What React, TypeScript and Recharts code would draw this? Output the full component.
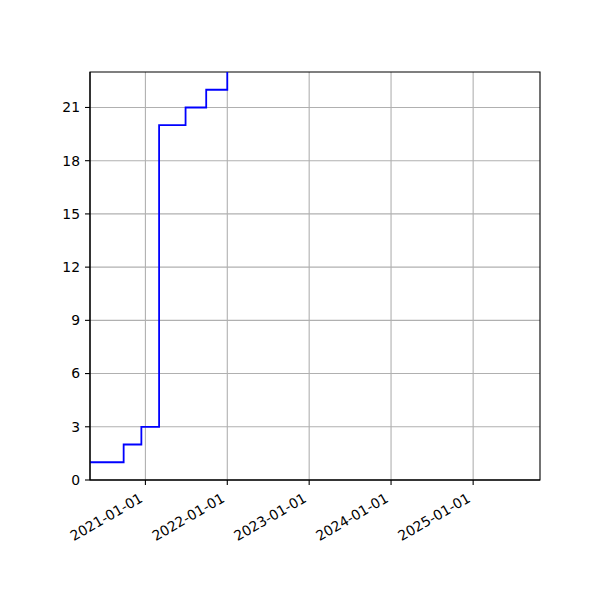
import { LineChart, Line, XAxis, YAxis, CartesianGrid, ReferenceArea } from 'recharts';

// step points (date the count changed, new count)
const changeDates = [
  '2020-04-29', '2020-09-26', '2020-12-14', '2021-03-03',
  '2021-06-29', '2021-09-29', '2022-01-01',
];
const counts = [1, 2, 3, 20, 21, 22, 23];

const xStart = '2020-04-29';
const xEnd = '2025-10-26';
const yearTicks = ['2021-01-01', '2022-01-01', '2023-01-01', '2024-01-01', '2025-01-01'];
const yTicks = [0, 3, 6, 9, 12, 15, 18, 21];
const yMax = 23;

const toTime = (s: string) => new Date(s + 'T00:00:00Z').getTime();
const fmt = (t: number) => new Date(t).toISOString().slice(0, 10);

const data = changeDates.map((d, i) => ({ t: toTime(d), count: counts[i] }));

const FONT = '"DejaVu Sans", sans-serif';

const DateTick = (props: any) => {
  const { x, y, payload } = props;
  const tx = x - 1.7;
  const ty = y + 11;
  return (
    <text
      x={tx}
      y={ty}
      textAnchor="end"
      transform={`rotate(-30, ${tx}, ${ty})`}
      fontFamily={FONT}
      fontSize={13.9}
      fill="#000"
    >
      {fmt(payload.value)}
    </text>
  );
};

export default function App() {
  return (
    <div style={{ position: 'absolute', left: 0, top: 0, width: 600, height: 600, background: '#fff' }}>
      <LineChart
        width={600}
        height={600}
        data={data}
        margin={{ top: 72, right: 60, bottom: 0, left: 0 }}
      >
        <CartesianGrid
          xAxisId="bottom"
          yAxisId="left"
          stroke="#b0b0b0"
          strokeWidth={1.1}
          horizontalValues={yTicks}
          verticalValues={yearTicks.map(toTime)}
        />
        <XAxis
          xAxisId="bottom"
          dataKey="t"
          type="number"
          domain={[toTime(xStart), toTime(xEnd)]}
          ticks={yearTicks.map(toTime)}
          interval={0}
          allowDataOverflow
          height={120}
          tickSize={5}
          tickMargin={5}
          tick={<DateTick />}
          axisLine={{ stroke: '#000', strokeWidth: 1.1 }}
          tickLine={{ stroke: '#000', strokeWidth: 1.1 }}
        />
        <YAxis
          yAxisId="left"
          type="number"
          domain={[0, yMax]}
          ticks={yTicks}
          interval={0}
          allowDataOverflow
          width={90}
          tickSize={5}
          tickMargin={5}
          tick={{ fill: '#000', fontSize: 13.9, fontFamily: FONT }}
          axisLine={{ stroke: '#000', strokeWidth: 1.1 }}
          tickLine={{ stroke: '#000', strokeWidth: 1.1 }}
        />
        <Line
          xAxisId="bottom"
          yAxisId="left"
          type="stepAfter"
          dataKey="count"
          stroke="#0000ff"
          strokeWidth={1.8}
          dot={false}
          isAnimationActive={false}
        />
        <ReferenceArea
          xAxisId="bottom"
          yAxisId="left"
          x1={toTime(xStart)}
          x2={toTime(xEnd)}
          y1={0}
          y2={yMax}
          fill="none"
          stroke="#000"
          strokeWidth={1.1}
          ifOverflow="visible"
        />
      </LineChart>
    </div>
  );
}
